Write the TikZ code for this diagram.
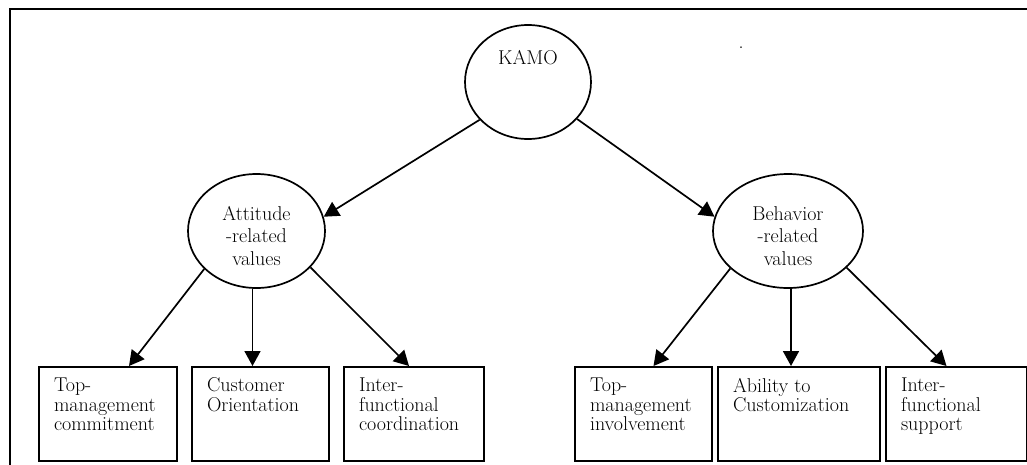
\documentclass[tikz,border=0pt]{standalone}
\usetikzlibrary{shapes.geometric, positioning, arrows.meta}

\newcommand{\leaftext}[2]{\parbox[t][72pt][t]{#1}{#2}}

\begin{document}
\begin{tikzpicture}[x=1pt, y=-1pt,
    every node/.style={font=\fontsize{20}{19.5}\selectfont},
    value/.style={draw, ellipse, line width=1.7pt, inner sep=0pt, minimum height=114pt},
    valtext/.style={align=center, inner sep=0pt, font=\fontsize{20}{22.5}\selectfont},
    leaf/.style={draw, rectangle, line width=2pt, inner xsep=15pt, inner ysep=11pt},
    link/.style={-{Triangle[length=15pt, width=16pt]}, line width=1.7pt}]
    \useasboundingbox (0,0) rectangle (1027,464);

    % Frame
    \draw[line width=2pt] (10,470) -- (10,9) -- (1030,9);

    % KAMO
    \node[value, minimum width=126pt] (KAMO) at (528,82) {};
    \node (KAMOtext) at ([yshift=24pt]KAMO.center) {KAMO};
    \node (dot) at (741,48) {.};

    % Values
    \node[value, minimum width=137pt] (Att) at (256.5,231) {};
    \node[valtext] (AttText) at ([yshift=-5pt]Att.center) {Attitude\\-related\\values};
    \node[value, minimum width=150pt] (Beh) at (788,231) {};
    \node[valtext] (BehText) at ([yshift=-5pt]Beh.center) {Behavior\\-related\\values};

    % Attitude boxes
    \node[leaf, anchor=north west] (TopComm) at (38,366) {\leaftext{108pt}{Top-\\management\\commitment}};
    \node[leaf, right=13pt of TopComm] (CustOri) {\leaftext{107pt}{Customer\\Orientation}};
    \node[leaf, right=13pt of CustOri] (InterCoord) {\leaftext{110pt}{Inter-\\functional\\coordination}};

    % Behavior boxes
    \node[leaf, anchor=north west] (TopInv) at (574,366) {\leaftext{107pt}{Top-\\management\\involvement}};
    \node[leaf, right=4pt of TopInv] (AbilCust) {\leaftext{132pt}{Ability to\\Customization}};
    \node[leaf, right=4pt of AbilCust] (InterSupp) {\leaftext{111pt}{Inter-\\functional\\support}};

    % Arrows
    \draw[link] (KAMO.218) -- (Att.12);
    \draw[link] (KAMO.323) -- (Beh.169);
    \draw[link] (Att.216) -- ([xshift=21pt]TopComm.north);
    \draw[link] ([xshift=-4pt]Att.south) -- ([xshift=-4pt]Att.south |- CustOri.north);
    \draw[link] (Att.326) -- ([xshift=-5pt]InterCoord.north);
    \draw[link] (Beh.213) -- ([xshift=10pt]TopInv.north);
    \draw[link] ([xshift=3pt]Beh.south) -- ([xshift=3pt]Beh.south |- AbilCust.north);
    \draw[link] (Beh.328) -- ([xshift=-10pt]InterSupp.north);
\end{tikzpicture}
\end{document}
